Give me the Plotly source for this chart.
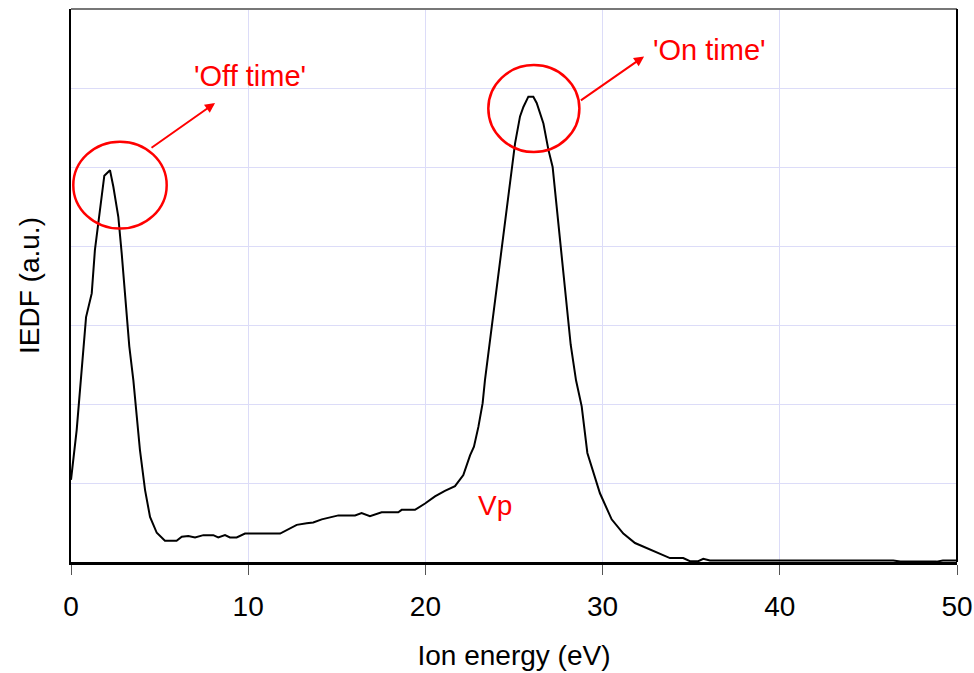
import plotly.graph_objects as go

# Ion energy (eV)
energy = [0.0, 0.32, 0.85, 1.17, 1.35, 1.88, 2.2, 2.39, 2.67, 2.86, 3.29, 3.52, 3.89,
          4.18, 4.46, 4.84, 5.3, 5.96, 6.25, 6.62, 7.0, 7.47, 8.03, 8.31, 8.69, 8.97,
          9.35, 9.82, 11.8, 12.74, 13.3, 13.67, 14.15, 15.09, 16.03, 16.4, 16.87, 17.53,
          18.47, 18.66, 19.41, 19.98, 20.54, 21.1, 21.67, 22.14, 22.52, 22.74, 22.99,
          23.23, 23.36, 24.68, 25.06, 25.34, 25.53, 25.81, 26.09, 26.28, 26.66, 26.94,
          27.18, 27.37, 28.2, 28.5, 28.82, 29.14, 29.48, 29.85, 30.51, 31.17, 31.83,
          33.24, 33.8, 34.55, 34.93, 35.4, 35.68, 36.06, 46.4, 46.8, 48.85, 49.2, 50.0]
# IEDF (a.u.)
iedf = [1.04, 1.67, 3.10, 3.40, 3.95, 4.89, 4.96, 4.75, 4.37, 3.91, 2.73, 2.30, 1.42,
        0.91, 0.57, 0.37, 0.27, 0.27, 0.32, 0.33, 0.31, 0.34, 0.34, 0.31, 0.34, 0.31,
        0.31, 0.36, 0.36, 0.47, 0.49, 0.50, 0.54, 0.59, 0.59, 0.62, 0.58, 0.63,
        0.63, 0.66, 0.66, 0.74, 0.83, 0.90, 0.96, 1.10, 1.35, 1.46, 1.71,
        2.01, 2.30, 4.58, 5.30, 5.64, 5.76, 5.89, 5.89, 5.81, 5.55, 5.22,
        5.00, 4.58, 2.75, 2.30, 1.97, 1.38, 1.12, 0.87, 0.54, 0.36, 0.24,
        0.10, 0.05, 0.05, 0.01, 0.01, 0.04, 0.02, 0.02, 0.005, 0.005, 0.02, 0.02]

x_ticks = [0, 10, 20, 30, 40, 50]

FONT = "Liberation Sans, Arial, sans-serif"
RED = "#ff0000"
GRID = "#dcdcf8"

fig = go.Figure()
fig.add_trace(go.Scatter(x=energy, y=iedf, mode="lines",
                         line=dict(color="black", width=2), showlegend=False,
                         hoverinfo="x+y"))

fig.update_layout(
    width=974, height=673,
    margin=dict(l=71, r=17, t=9, b=111, autoexpand=False),
    paper_bgcolor="white", plot_bgcolor="white",
    font=dict(family=FONT, size=28, color="black"),
    xaxis=dict(range=[0, 50], tickvals=x_ticks, ticktext=[str(v) for v in x_ticks],
               showgrid=True, gridcolor=GRID, gridwidth=1,
               showline=True, linecolor="black", linewidth=3,
               ticks="outside", ticklen=10, tickcolor="#555555", tickwidth=1,
               ticklabelstandoff=7, automargin=False,
               tickfont=dict(size=28, family=FONT),
               title=dict(text="Ion energy (eV)", font=dict(size=28, family=FONT), standoff=25),
               zeroline=False, fixedrange=True),
    yaxis=dict(range=[0, 7], dtick=1, showticklabels=False,
               showgrid=True, gridcolor=GRID, gridwidth=1,
               showline=True, linecolor="black", linewidth=2,
               ticks="", automargin=False,
               title=dict(text="IEDF (a.u.)", font=dict(size=28, family=FONT), standoff=21),
               zeroline=False, fixedrange=True),
)

# frame: grey top, black right
fig.add_shape(type="line", xref="paper", yref="paper", x0=0, x1=1, y0=1, y1=1,
              line=dict(color="#777777", width=2))
fig.add_shape(type="line", xref="paper", yref="paper", x0=1, x1=1, y0=0, y1=1,
              line=dict(color="black", width=2))

# ellipses around peaks
fig.add_shape(type="circle", xref="x", yref="y", x0=0.13, x1=5.40, y0=4.22, y1=5.32,
              line=dict(color=RED, width=2.5))
fig.add_shape(type="circle", xref="x", yref="y", x0=23.55, x1=28.69, y0=5.19, y1=6.29,
              line=dict(color=RED, width=2.5))

# arrows
fig.add_annotation(x=8.13, y=5.81, ax=4.46, ay=5.23, xref="x", yref="y",
                   axref="x", ayref="y", text="", showarrow=True,
                   arrowhead=2, arrowsize=1, arrowwidth=2, arrowcolor=RED)
fig.add_annotation(x=32.34, y=6.40, ax=28.69, ay=5.83, xref="x", yref="y",
                   axref="x", ayref="y", text="", showarrow=True,
                   arrowhead=2, arrowsize=1, arrowwidth=2, arrowcolor=RED)

# labels
fig.add_annotation(x=6.85, y=6.15, xref="x", yref="y", text="'Off time'", showarrow=False,
                   xanchor="left", yanchor="middle", font=dict(color=RED, size=29, family=FONT))
fig.add_annotation(x=32.72, y=6.48, xref="x", yref="y", text="'On time'", showarrow=False,
                   xanchor="left", yanchor="middle", font=dict(color=RED, size=29, family=FONT))
fig.add_annotation(x=22.85, y=0.71, xref="x", yref="y", text="Vp", showarrow=False,
                   xanchor="left", yanchor="middle", font=dict(color=RED, size=28, family=FONT))

fig.write_html("out.html")
